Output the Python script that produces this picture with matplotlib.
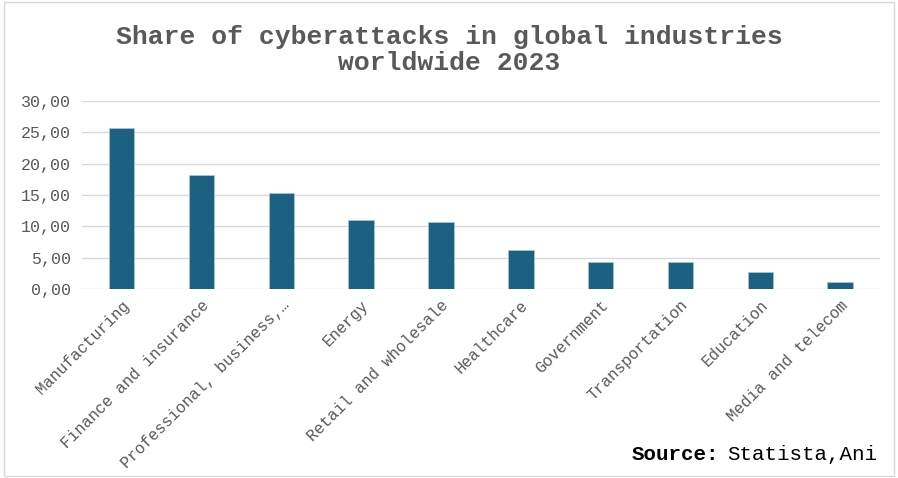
import matplotlib
matplotlib.use("Agg")
import matplotlib.pyplot as plt
from matplotlib.ticker import FuncFormatter

plt.rcParams['font.family'] = ['Liberation Mono', 'DejaVu Sans Mono']

industries = ["Manufacturing", "Finance and insurance", "Professional, business,\u2026",
              "Energy", "Retail and wholesale", "Healthcare", "Government",
              "Transportation", "Education", "Media and telecom"]
shares = [25.7, 18.2, 15.4, 11.1, 10.7, 6.3, 4.3, 4.3, 2.8, 1.2]

fig = plt.figure(figsize=(8.98, 4.78), dpi=100)
ax = fig.add_axes([0.091, 0.395, 0.889, 0.394])

x = range(len(industries))
ax.bar(x, shares, width=0.32, color="#1b6282", edgecolor="#a9c4d3", linewidth=0.6, zorder=3)

ax.set_ylim(0, 30)
ax.set_yticks([0, 5, 10, 15, 20, 25, 30])
ax.yaxis.set_major_formatter(FuncFormatter(lambda v, p: f"{v:.2f}".replace(".", ",")))
ax.set_xlim(-0.5, len(industries) - 0.5)
ax.set_xticks(list(x))
ax.set_xticklabels(industries, rotation=45, ha="right", rotation_mode="anchor")
ax.tick_params(axis="y", length=0, labelsize=12, colors="#595959", pad=8)
ax.tick_params(axis="x", length=0, labelsize=11.5, colors="#595959", pad=6)
ax.grid(axis="y", color="#d9d9d9", linewidth=1, zorder=0)
for s in ["top", "right", "left", "bottom"]:
    ax.spines[s].set_visible(False)

fig.text(0.5, 0.895, "Share of cyberattacks in global industries\nworldwide 2023",
         ha="center", va="center", fontsize=19, fontweight="bold", color="#595959",
         linespacing=1.1)

fig.text(0.703, 0.05, "Source:", fontsize=15, fontweight="bold", color="black", va="center")
fig.text(0.81, 0.05, "Statista,Ani", fontsize=15, color="black", va="center")

# thin frame around the figure
fig.patches.append(plt.Rectangle((0.004, 0.004), 0.992, 0.992, transform=fig.transFigure,
                                 fill=False, edgecolor="#d9d9d9", linewidth=1))

fig.savefig("out.png", dpi=100)
